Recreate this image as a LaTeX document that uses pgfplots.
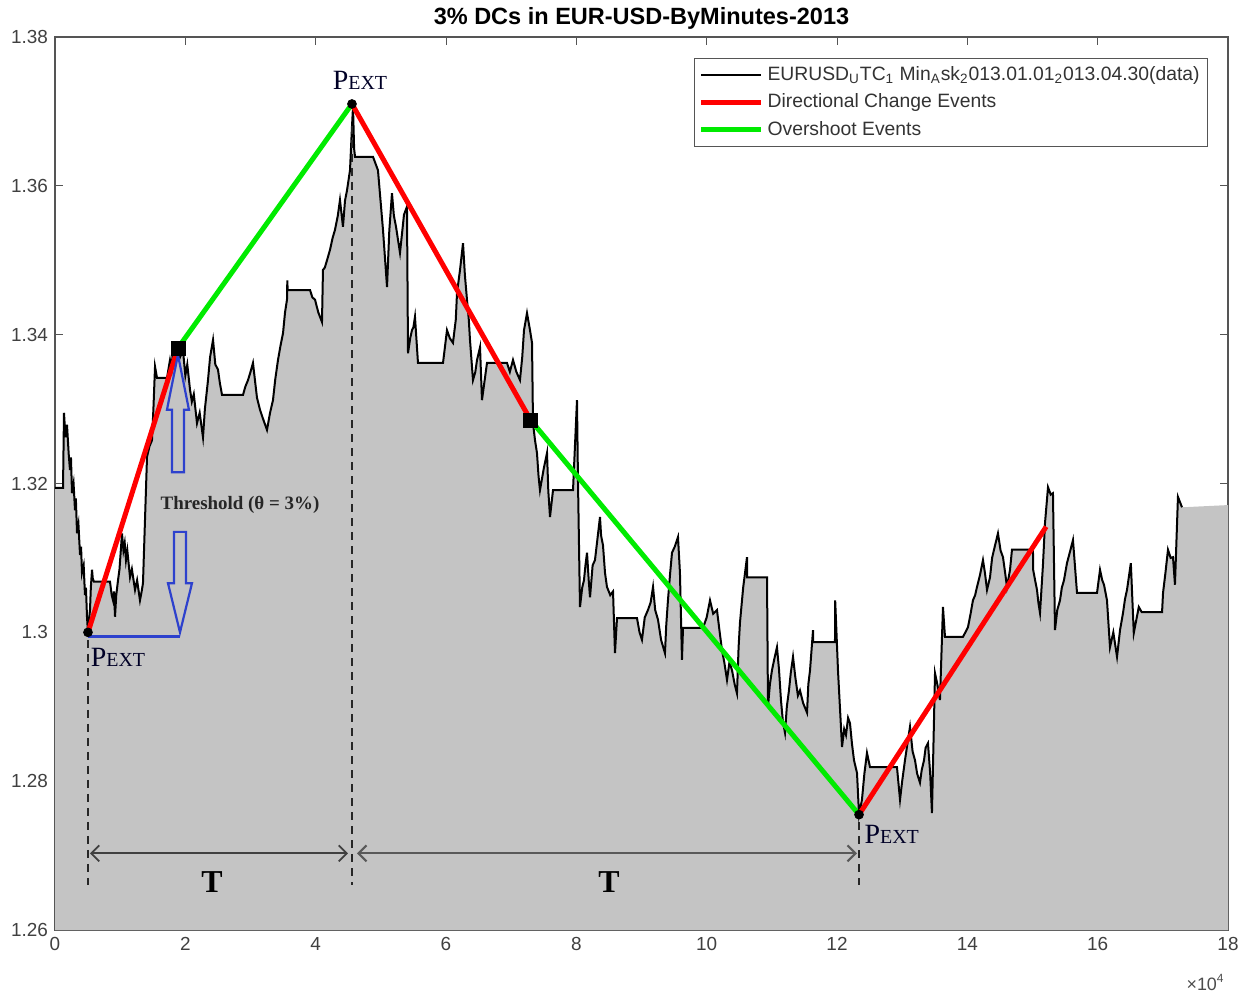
\documentclass[border=0pt]{standalone}
\usepackage{pgfplots}
\pgfplotsset{compat=1.18}
\usepackage{pgfplotstable}
\usepackage{fontspec}
\setmainfont{Liberation Sans}
\newfontfamily\seriffont{Liberation Serif}
\usetikzlibrary{arrows.meta}

\definecolor{fillgray}{RGB}{196,196,196}
\definecolor{dcred}{RGB}{255,0,0}
\definecolor{osgreen}{RGB}{0,235,0}
\definecolor{arrowblue}{RGB}{45,65,205}
\definecolor{axisgray}{RGB}{85,85,85}

\pgfplotstableread{
x y
0 1.3194
0.123 1.3194
0.138 1.3295
0.16 1.3262
0.184 1.3279
0.21 1.3240
0.230 1.3218
0.245 1.3235
0.261 1.3187
0.285 1.3200
0.307 1.3164
0.32 1.3180
0.338 1.3133
0.36 1.3145
0.384 1.3104
0.40 1.3115
0.414 1.3080
0.44 1.3090
0.460 1.3050
0.475 1.3060
0.491 1.3021
0.506 1.3000
0.52 1.3015
0.537 1.3030
0.55 1.3060
0.568 1.3084
0.58 1.3072
0.598 1.3068
0.844 1.3068
0.87 1.3050
0.890 1.3043
0.905 1.3055
0.921 1.3021
0.94 1.3050
0.967 1.3070
0.99 1.3085
1.028 1.3133
1.05 1.3110
1.07 1.3120
1.089 1.3097
1.11 1.3110
1.151 1.3074
1.18 1.3085
1.228 1.3057
1.26 1.3070
1.304 1.3043
1.33 1.3055
1.350 1.3066
1.381 1.3151
1.412 1.3236
1.45 1.3250
1.488 1.3258
1.51 1.3300
1.535 1.3357
1.565 1.3342
1.719 1.3342
1.765 1.3366
1.79 1.3355
1.811 1.3383
1.887 1.3386
1.92 1.3370
1.964 1.3379
2.00 1.3345
2.03 1.3360
2.072 1.3326
2.10 1.3310
2.13 1.3320
2.179 1.3281
2.22 1.3295
2.271 1.3262
2.30 1.3300
2.348 1.3339
2.38 1.3370
2.425 1.3393
2.46 1.3360
2.501 1.3353
2.53 1.3335
2.563 1.3319
2.885 1.3319
2.92 1.3330
2.962 1.3339
3.00 1.3350
3.038 1.3362
3.08 1.3330
3.10 1.3315
3.146 1.3299
3.20 1.3285
3.253 1.3272
3.30 1.3295
3.345 1.3312
3.38 1.3340
3.422 1.3366
3.46 1.3385
3.499 1.3402
3.53 1.3430
3.560 1.3447
3.565 1.3473
3.570 1.3460
3.913 1.3460
3.95 1.3450
3.990 1.3447
4.04 1.3430
4.097 1.3417
4.112 1.3487
4.14 1.3490
4.174 1.3500
4.220 1.3514
4.26 1.3530
4.297 1.3541
4.34 1.3560
4.373 1.3581
4.419 1.3545
4.45 1.3580
4.481 1.3594
4.527 1.3621
4.557 1.3679
4.573 1.3706
4.590 1.3650
4.604 1.3639
4.880 1.3639
4.956 1.3621
5.033 1.3541
5.095 1.3464
5.13 1.3540
5.171 1.3590
5.20 1.3560
5.233 1.3545
5.294 1.3510
5.33 1.3540
5.355 1.3561
5.401 1.3572
5.417 1.3375
5.45 1.3395
5.478 1.3406
5.50 1.3410
5.524 1.3424
5.570 1.3362
5.954 1.3362
6.015 1.3406
6.06 1.3395
6.107 1.3389
6.15 1.3420
6.169 1.3456
6.215 1.3487
6.261 1.3523
6.29 1.3480
6.322 1.3447
6.35 1.3420
6.368 1.3393
6.414 1.3339
6.45 1.3350
6.476 1.3366
6.522 1.3383
6.552 1.3312
6.629 1.3362
6.936 1.3362
6.98 1.3350
7.028 1.3366
7.08 1.3350
7.135 1.3339
7.17 1.3370
7.197 1.3406
7.243 1.3429
7.289 1.3406
7.320 1.3389
7.335 1.3281
7.366 1.3258
7.396 1.3241
7.42 1.3210
7.442 1.3191
7.50 1.3220
7.550 1.3241
7.57 1.3190
7.596 1.3155
7.642 1.3191
7.949 1.3191
8.010 1.3312
8.025 1.3205
8.056 1.3034
8.09 1.3060
8.117 1.3070
8.14 1.3090
8.164 1.3107
8.19 1.3070
8.210 1.3047
8.25 1.3090
8.286 1.3097
8.363 1.3155
8.38 1.3130
8.409 1.3117
8.44 1.3080
8.470 1.3061
8.52 1.3050
8.563 1.3055
8.593 1.2972
8.624 1.3019
8.931 1.3019
8.97 1.3000
9.007 1.2990
9.05 1.3020
9.099 1.3030
9.14 1.3040
9.177 1.3061
9.21 1.3030
9.253 1.3017
9.30 1.2990
9.360 1.2972
9.38 1.3010
9.406 1.3043
9.44 1.3080
9.468 1.3107
9.51 1.3115
9.560 1.3128
9.59 1.3080
9.621 1.2963
9.637 1.3006
9.944 1.3006
10.0 1.3020
10.051 1.3043
10.10 1.3025
10.158 1.3030
10.20 1.3000
10.235 1.2976
10.27 1.2960
10.312 1.2936
10.35 1.2960
10.389 1.2949
10.43 1.2930
10.465 1.2918
10.49 1.2980
10.511 1.3013
10.56 1.3060
10.619 1.3101
10.62 1.3074
10.926 1.3074
10.941 1.2900
10.97 1.2930
11.002 1.2949
11.04 1.2965
11.079 1.2980
11.11 1.2950
11.140 1.2909
11.17 1.2880
11.202 1.2865
11.23 1.2900
11.263 1.2922
11.29 1.2945
11.325 1.2967
11.36 1.2940
11.40 1.2915
11.432 1.2922
11.48 1.2905
11.540 1.2892
11.56 1.2930
11.586 1.2949
11.632 1.3003
11.635 1.2987
11.969 1.2987
11.972 1.3043
12.015 1.2949
12.077 1.2846
12.11 1.2870
12.138 1.2862
12.17 1.2885
12.199 1.2878
12.23 1.2850
12.261 1.2828
12.307 1.2811
12.338 1.2755
12.383 1.2775
12.42 1.2810
12.460 1.2838
12.506 1.2819
12.920 1.2819
12.967 1.2775
13.00 1.2800
13.043 1.2828
13.08 1.2850
13.120 1.2873
13.16 1.2840
13.197 1.2828
13.23 1.2810
13.273 1.2798
13.30 1.2815
13.335 1.2828
13.36 1.2845
13.396 1.2851
13.43 1.2810
13.457 1.2757
13.504 1.2945
13.54 1.2930
13.580 1.2909
13.626 1.3034
13.657 1.2994
13.933 1.2994
13.97 1.3000
14.010 1.3007
14.05 1.3025
14.086 1.3043
14.12 1.3050
14.148 1.3061
14.194 1.3077
14.240 1.3097
14.27 1.3080
14.302 1.3057
14.348 1.3074
14.38 1.3100
14.409 1.3111
14.470 1.3133
14.51 1.3110
14.547 1.3101
14.58 1.3080
14.608 1.3061
14.655 1.3084
14.685 1.3111
15.007 1.3111
15.01 1.3084
15.04 1.3070
15.069 1.3057
15.09 1.3040
15.115 1.3026
15.16 1.3090
15.192 1.3147
15.238 1.3195
15.28 1.3185
15.314 1.3187
15.345 1.3003
15.38 1.3030
15.422 1.3043
15.45 1.3060
15.483 1.3070
15.529 1.3093
15.58 1.3110
15.621 1.3124
15.683 1.3053
15.990 1.3053
16.036 1.3084
16.07 1.3070
16.097 1.3064
16.143 1.3043
16.189 1.2980
16.24 1.3000
16.297 1.2967
16.343 1.3003
16.389 1.3026
16.42 1.3045
16.450 1.3057
16.509 1.3093
16.554 1.2999
16.60 1.3020
16.631 1.3034
16.677 1.3027
16.988 1.3027
17.003 1.3053
17.04 1.3080
17.079 1.3111
17.12 1.3100
17.156 1.3101
17.186 1.3064
17.232 1.3182
17.294 1.3168
18.0 1.3171
}\price

\newcommand{\pext}{{\seriffont\fontsize{14}{14}\selectfont P\fontsize{10}{10}\selectfont EXT}}

\begin{document}
\begin{tikzpicture}
\begin{axis}[name=ax,
  scale only axis, width=586.5bp, height=446.5bp,
  xmin=0, xmax=18, ymin=1.26, ymax=1.38,
  xtick={0,2,4,6,8,10,12,14,16,18},
  ytick={1.26,1.28,1.30,1.32,1.34,1.36,1.38},
  yticklabels={1.26,1.28,1.3,1.32,1.34,1.36,1.38},
  /pgf/number format/assume math mode=true,
  tick label style={font=\fontsize{9.5}{10}\selectfont, text=black!75},
  axis line style={axisgray, line width=0.6bp},
  tick style={axisgray, line width=0.5bp},
  major tick length=4bp,
  tick align=inside,
  title={3\% DCs in EUR-USD-ByMinutes-2013},
  title style={font=\bfseries\fontsize{11.8}{12}\selectfont, at={(0.5,1)}, anchor=base, yshift=0.5bp, inner sep=0pt},
  legend style={at={(1,1)}, anchor=north east, xshift=-10bp, yshift=-10.5bp,
    font=\fontsize{9.7}{11}\selectfont, text=black!80, draw=axisgray,
    inner sep=2bp, row sep=1.2bp},
  legend cell align=left,
  legend image code/.code={\draw[#1] (0bp,0bp) -- (30bp,0bp);},
]
\addplot[draw=none, fill=fillgray, forget plot] table {\price} \closedcycle;
\addplot[black, line width=1bp, restrict x to domain=0:17.5] table {\price};
\addlegendentry{EURUSD\textsubscript{U}TC\textsubscript{1} Min\textsubscript{A}sk\textsubscript{2}013.01.01\textsubscript{2}013.04.30(data)}
\addplot[dcred, line width=2.5bp] coordinates {(0.506,1.3000) (1.887,1.3382)};
\addlegendentry{Directional Change Events}
\addplot[osgreen, line width=2.5bp] coordinates {(1.887,1.3382) (4.557,1.3710)};
\addlegendentry{Overshoot Events}
\addplot[dcred, line width=2.5bp, forget plot] coordinates {(4.557,1.3710) (7.30,1.3285)};
\addplot[osgreen, line width=2.5bp, forget plot] coordinates {(7.30,1.3285) (12.338,1.2755)};
\addplot[dcred, line width=2.5bp, forget plot] coordinates {(12.338,1.2755) (15.21,1.3142)};
\addplot[only marks, mark=*, mark size=2.2bp, black, forget plot] coordinates {(0.506,1.3000) (4.557,1.3710) (12.338,1.2755)};
\addplot[only marks, mark=square*, mark size=3.5bp, black, forget plot] coordinates {(1.887,1.3382) (7.30,1.3285)};

% threshold annotation
\draw[arrowblue, line width=1.5bp] (axis cs:0.506,1.2995) -- (axis cs:1.918,1.2995);
\draw[arrowblue, line width=1.1bp] (axis cs:1.795,1.3215) -- (axis cs:1.795,1.3299) -- (axis cs:1.718,1.3299) -- (axis cs:1.887,1.3373) -- (axis cs:2.056,1.3299) -- (axis cs:1.979,1.3299) -- (axis cs:1.979,1.3215) -- cycle;
\draw[arrowblue, line width=1.1bp] (axis cs:1.826,1.3135) -- (axis cs:1.826,1.3066) -- (axis cs:1.734,1.3066) -- (axis cs:1.918,1.3000) -- (axis cs:2.102,1.3066) -- (axis cs:2.010,1.3066) -- (axis cs:2.010,1.3135) -- cycle;
\node[font=\seriffont\bfseries\fontsize{9.5}{10}\selectfont, text=black!85] at (axis cs:2.839,1.3171) {Threshold (θ = 3\%)};

% time spans
\draw[black!85, line width=0.6bp, dash pattern=on 4bp off 3bp] (axis cs:0.506,1.2990) -- (axis cs:0.506,1.2660);
\draw[black!85, line width=0.6bp, dash pattern=on 4bp off 3bp] (axis cs:4.557,1.3680) -- (axis cs:4.557,1.2660);
\draw[black!85, line width=0.6bp, dash pattern=on 4bp off 3bp] (axis cs:12.338,1.2745) -- (axis cs:12.338,1.2660);
\draw[black!75, line width=0.9bp, {Straight Barb[length=4bp,width=8bp]}-{Straight Barb[length=4bp,width=8bp]}] (axis cs:0.537,1.2703) -- (axis cs:4.496,1.2703);
\draw[black!65, line width=1.1bp, {Straight Barb[length=4bp,width=8bp]}-{Straight Barb[length=4bp,width=8bp]}] (axis cs:4.634,1.2703) -- (axis cs:12.307,1.2703);
\node[font=\seriffont\bfseries\fontsize{16}{16}\selectfont] at (axis cs:2.409,1.2664) {T};
\node[font=\seriffont\bfseries\fontsize{16}{16}\selectfont] at (axis cs:8.501,1.2664) {T};

% extreme points
\node[text=black!85!blue] at (axis cs:0.967,1.2967) {\pext};
\node[text=black!85!blue] at (axis cs:4.68,1.3742) {\pext};
\node[text=black!85!blue] at (axis cs:12.84,1.2728) {\pext};
\end{axis}
\node[anchor=north east, inner sep=0pt, font=\fontsize{9}{10}\selectfont, text=black!70] at ([shift={(-1.5bp,-22bp)}]ax.south east) {\texttimes 10\textsuperscript{4}};
\pgfresetboundingbox
\useasboundingbox ([shift={(-27.5bp,-33.5bp)}]ax.south west) rectangle ([shift={(12.5bp,18.5bp)}]ax.north east);
\end{tikzpicture}
\end{document}
